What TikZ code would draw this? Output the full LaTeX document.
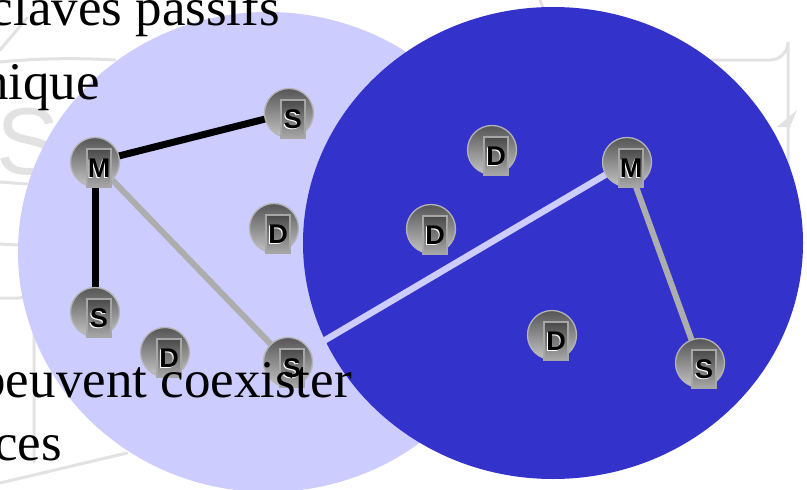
\documentclass[tikz,border=0pt]{standalone}
\usepackage{fontspec}
\setmainfont{Liberation Serif}
\newfontfamily\lettersf{Liberation Sans}
\usetikzlibrary{backgrounds}
\definecolor{lav}{HTML}{CCCCFF}
\definecolor{deepblue}{HTML}{3333CC}
\definecolor{linegray}{HTML}{ADADAD}
\definecolor{faint}{HTML}{E2E2E2}
\definecolor{ringgray}{HTML}{B4B4B4}
\definecolor{balltop}{HTML}{555555}
\definecolor{ballbot}{HTML}{C4C4C4}
\definecolor{tagtop}{HTML}{4A4A4A}
\definecolor{tagbot}{HTML}{A8A8A8}
\definecolor{tagedge}{HTML}{A6A6A6}
\tikzset{
  dev/.style={circle, minimum size=49pt, inner sep=0pt, draw=ringgray, line width=1.3pt,
    top color=balltop, bottom color=ballbot},
  devtag/.style={rectangle, minimum width=24pt, minimum height=38pt, inner sep=0pt,
    draw=tagedge, line width=1.3pt, top color=tagtop, bottom color=tagbot},
  devletter/.style={inner sep=0pt, font=\lettersf\bfseries\fontsize{27}{27}\selectfont, text=black},
  blackedge/.style={draw=black, line width=7pt},
  grayedge/.style={draw=linegray, line width=6pt},
  lavedge/.style={draw=lav, line width=6.5pt},
  faintline/.style={draw=faint, line width=3pt, line cap=round},
  slidetext/.style={inner sep=0pt, font=\fontsize{53}{60}\selectfont, text=black}
}
\newcommand\devnode[4]{%
  \node[dev] (#1) at (#2,#3) {};
  \node[devtag] (#1t) at ([shift={(4,6)}]#1.center) {};
  \node[devletter,text=white] (#1w) at ([shift={(-1,1)}]#1t.center) {#4};
  \node[devletter] (#1l) at (#1t.center) {#4};
}
\begin{document}
\begin{tikzpicture}[x=1pt,y=-1pt]
\clip (0,0) rectangle (807,490);
% nodes
\devnode{ma}{95}{162}{M}
\devnode{sa}{289}{113}{S}
\devnode{sb}{95}{312}{S}
\devnode{da}{165}{352}{D}
\devnode{db}{274}{228}{D}
\devnode{sc}{288}{362}{S}
\devnode{dc}{492}{150}{D}
\devnode{dd}{431}{229}{D}
\devnode{mb}{627}{162}{M}
\devnode{de}{552}{335}{D}
\devnode{sd}{700}{363}{S}
\begin{pgfonlayer}{background}
  \fill[white] (0,0) rectangle (807,490);
  % faint slide decorations
  \node[text=faint, inner sep=0pt, font=\lettersf\fontsize{95}{95}\selectfont] (bgS) at (28,142) {S};
  \draw[faintline] (0,62) .. controls (40,58) and (80,58) .. (115,60);
  \draw[faintline] (0,50) -- (27,18);
  \draw[faintline] (0,182) -- (27,184);
  \draw[faintline] (0,244) -- (18,245);
  \draw[faintline] (0,298) -- (18,298) arc[start angle=90, end angle=0, radius=16] -- (34,462);
  \draw[faintline] (0,483) -- (127,453);
  \draw[faintline] (540,0) -- (543,8);
  \draw[faintline] (712,60) -- (770,60) arc[start angle=90, end angle=0, radius=18] -- (788,250);
  \fill[faint] (777,127) -- (797,110) -- (790,127) -- cycle;
  % the two areas
  \fill[lav] (268,252) ellipse[x radius=250, y radius=240];
  \fill[deepblue] (553,243) ellipse[x radius=250, y radius=236];
  % links
  \draw[blackedge] (ma.center) -- (sa.center);
  \draw[blackedge] (ma.center) -- (sb.center);
  \draw[grayedge] (ma.center) -- (sc.center);
  \draw[lavedge] (sc.center) -- (mb.center);
  \draw[grayedge] (mb.center) -- (sd.center);
\end{pgfonlayer}
% slide text on top
\node[slidetext, anchor=base east] (t1) at (280,25) {claves passifs};
\node[slidetext, anchor=base east] (t2) at (100,99) {nique};
\node[slidetext, anchor=base east] (t3) at (352,397) {peuvent coexister};
\node[slidetext, anchor=base east] (t4) at (62,460) {ces};
\end{tikzpicture}
\end{document}
